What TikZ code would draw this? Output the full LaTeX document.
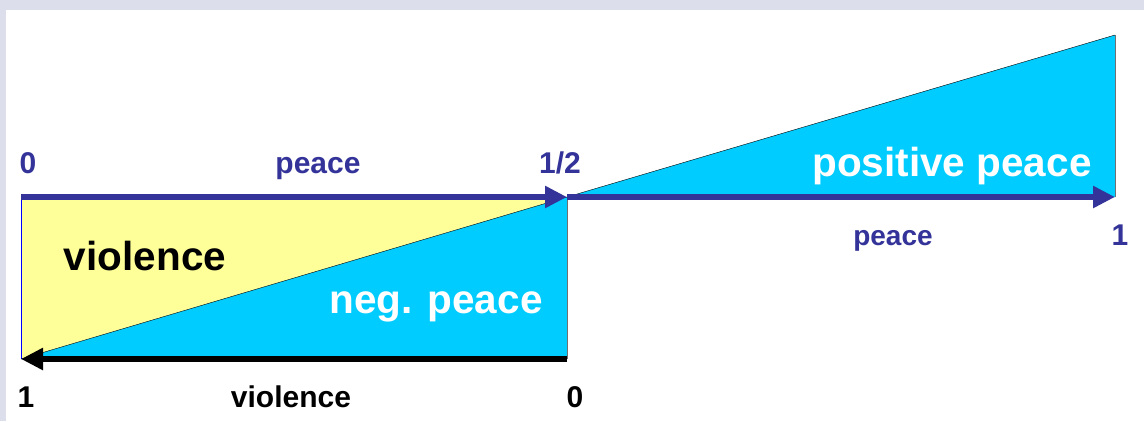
\documentclass[tikz,border=0pt]{standalone}
\usepackage{fontspec}
\setmainfont{Liberation Sans}
\usetikzlibrary{arrows.meta}
\definecolor{pcblue}{HTML}{333399}
\definecolor{skycyan}{HTML}{00CCFF}
\definecolor{paleyel}{HTML}{FFFF99}
\definecolor{lavbg}{HTML}{DCDEEC}
\definecolor{edgegray}{HTML}{707070}

\begin{document}
\begin{tikzpicture}[
    x=1pt, y=-1pt,
    axisarrow/.style={line width=5.5pt, -{Triangle[length=22pt, width=21pt]}},
    smalllab/.style={font=\fontsize{30}{34}\selectfont\bfseries, inner sep=0pt, anchor=base},
    biglab/.style={font=\fontsize{40.5}{46}\selectfont\bfseries, inner sep=0pt, anchor=base},
  ]

  % ══════════════════════════════════════════════════════
  % Background
  % ══════════════════════════════════════════════════════
  \fill[lavbg] (0,0) rectangle (1144,421);
  \fill[white] (6,10) rectangle (1144,421);
  \useasboundingbox (0,0) rectangle (1144,421);

  % ══════════════════════════════════════════════════════
  % Corner points
  % ══════════════════════════════════════════════════════
  \coordinate (A) at (21,197);   % 0 (peace)
  \coordinate (M) at (567,197);  % 1/2
  \coordinate (B) at (21,359);   % 1 (violence)
  \coordinate (N) at (567,359);  % 0 (violence)
  \coordinate (T) at (1115,35);
  \coordinate (R) at (1115,197); % 1 (peace)

  % ══════════════════════════════════════════════════════
  % Filled areas
  % ══════════════════════════════════════════════════════
  \fill[paleyel] (A) -- (M) -- (B) -- cycle;
  \fill[skycyan] (M) -- (N) -- (B) -- cycle;
  \fill[skycyan] (M) -- (T) -- (R) -- cycle;

  \draw[blue, thin] (A) -- (B);
  \draw[edgegray, thin] (M) -- (N);
  \draw[edgegray, thin] (T) -- (R);
  \draw[black, thin] (B) -- (M);
  \draw[black, thin] (M) -- (T);

  % ══════════════════════════════════════════════════════
  % Axes
  % ══════════════════════════════════════════════════════
  \draw[pcblue, axisarrow] (A) -- (M);
  \draw[pcblue, axisarrow] (M) -- (R);
  \draw[black, axisarrow] (N) -- (B);

  % ══════════════════════════════════════════════════════
  % Labels
  % ══════════════════════════════════════════════════════
  \node[smalllab, text=pcblue] (zeroP) at (28,173) {0};
  \node[smalllab, text=pcblue] (peaceL) at (318,173) {peace};
  \node[smalllab, text=pcblue] (half) at (560,173) {1/2};
  \node[smalllab, text=pcblue, font=\fontsize{28}{32}\selectfont\bfseries]
    (peaceR) at (893,245) {peace};
  \node[smalllab, text=pcblue] (oneP) at (1120,245) {1};

  \node[smalllab, text=black] (oneV) at (26,407) {1};
  \node[smalllab, text=black] (violB) at (291,407) {violence};
  \node[smalllab, text=black] (zeroV) at (575,407) {0};

  \node[biglab, text=black] (violT) at (145,270) {violence};
  \node[biglab, text=white] (negP) at (436,313) {neg. peace};
  \node[biglab, text=white] (posP) at (952,176) {positive peace};

\end{tikzpicture}
\end{document}
